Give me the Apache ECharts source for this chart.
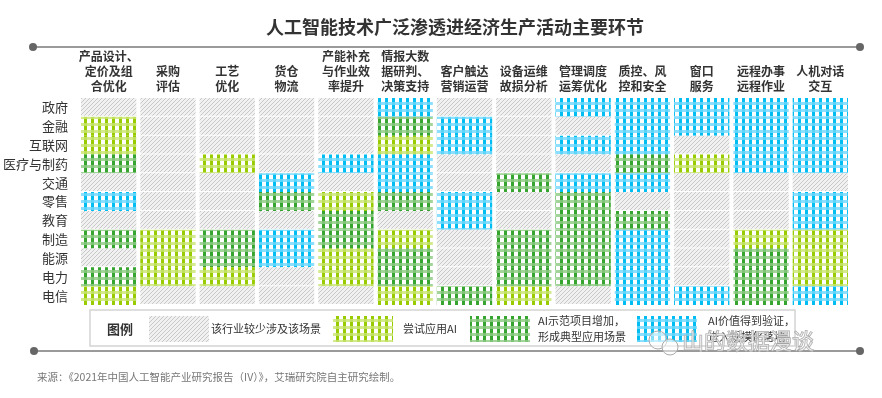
<!DOCTYPE html>
<html>
<head>
    <meta charset="utf-8">
    <title>人工智能技术广泛渗透进经济生产活动主要环节</title>
    <script src="https://cdn.jsdelivr.net/npm/echarts@6/dist/echarts.min.js"></script>
    <style>
        html, body { margin: 0; padding: 0; background: #fff; }
        #container { width: 882px; height: 398px; }
    </style>
</head>
<body>
<div id="container"></div>
<script type="text/javascript">
    // 行业（纵轴）
    var industries = ['政府', '金融', '互联网', '医疗与制药', '交通', '零售', '教育', '制造', '能源', '电力', '电信'];
    // 生产活动环节（横轴）
    var activities = ['产品设计、\n定价及组\n合优化', '采购\n评估', '工艺\n优化', '货仓\n物流', '产能补充\n与作业效\n率提升',
        '情报大数\n据研判、\n决策支持', '客户触达\n营销运营', '设备运维\n故损分析', '管理调度\n运筹优化', '质控、风\n控和安全',
        '窗口\n服务', '远程办事\n远程作业', '人机对话\n交互'];
    // 0=较少涉及 1=尝试应用AI 2=AI示范项目增加 3=AI价值得到验证
    var levelNames = ['该行业较少涉及该场景', '尝试应用AI', 'AI示范项目增加，\n形成典型应用场景', 'AI价值得到验证，\n进入规模化落地'];
    // 每个行业在13个环节上的渗透程度
    var lvGov    = [0, 0, 0, 0, 0, 3, 0, 0, 3, 3, 3, 3, 3];
    var lvFin    = [1, 0, 0, 0, 0, 2, 3, 0, 0, 3, 3, 3, 3];
    var lvNet    = [1, 0, 0, 0, 0, 1, 3, 0, 3, 3, 0, 3, 3];
    var lvMed    = [2, 0, 1, 0, 3, 3, 0, 0, 0, 2, 1, 3, 3];
    var lvTrans  = [0, 0, 0, 3, 0, 3, 0, 2, 3, 3, 0, 0, 0];
    var lvRetail = [3, 0, 0, 2, 1, 2, 3, 0, 2, 0, 0, 0, 3];
    var lvEdu    = [0, 0, 0, 0, 2, 0, 3, 0, 2, 2, 0, 0, 3];
    var lvMfg    = [2, 1, 2, 3, 2, 1, 0, 2, 2, 3, 0, 1, 1];
    var lvEnergy = [0, 1, 2, 3, 1, 2, 0, 2, 2, 3, 0, 2, 1];
    var lvPower  = [2, 1, 1, 0, 1, 2, 0, 2, 2, 3, 0, 2, 1];
    var lvTel    = [1, 0, 0, 0, 0, 1, 2, 1, 0, 3, 3, 2, 3];
    var levelRows = [lvGov, lvFin, lvNet, lvMed, lvTrans, lvRetail, lvEdu, lvMfg, lvEnergy, lvPower, lvTel];

    var cellData = [];
    levelRows.forEach(function (row, y) {
        row.forEach(function (v, x) {
            cellData.push([x, y, v]);
        });
    });

    // 斜线灰色纹理
    function hatchTile() {
        var c = document.createElement('canvas');
        c.width = 4; c.height = 4;
        var ctx = c.getContext('2d');
        ctx.fillStyle = '#f1f1f1';
        ctx.fillRect(0, 0, 4, 4);
        ctx.fillStyle = '#c8c8c8';
        for (var x = 0; x < 4; x++) {
            ctx.fillRect(x, 3 - x, 1, 1);
        }
        return c;
    }
    // 格子纹理
    function ginghamTile(dark, mid, band) {
        var c = document.createElement('canvas');
        c.width = 7; c.height = 7;
        var ctx = c.getContext('2d');
        ctx.fillStyle = '#ffffff';
        ctx.fillRect(0, 0, 7, 7);
        ctx.fillStyle = dark;
        ctx.fillRect(0, 0, 3, 4);
        ctx.fillStyle = band;
        ctx.fillRect(0, 4, 7, 3);
        ctx.fillStyle = mid;
        ctx.fillRect(0, 4, 3, 3);
        return c;
    }
    var patterns = [
        { image: hatchTile(), repeat: 'repeat' },
        { image: ginghamTile('#99cc00', '#c0df5c', '#d3ea8e'), repeat: 'repeat' },
        { image: ginghamTile('#36a52f', '#7fc476', '#a3d59a'), repeat: 'repeat' },
        { image: ginghamTile('#00bdf2', '#5cd3f8', '#8ddfff'), repeat: 'repeat' }
    ];

    var font = '"Noto Sans CJK SC", "Noto Sans", sans-serif';

    function renderItem(params, api) {
        var p = api.coord([api.value(0), api.value(1)]);
        var sz = api.size([1, 1]);
        var lvl = api.value(2);
        var w = sz[0] - 4;
        var h = lvl === 0 ? sz[1] - 1 : sz[1];
        return {
            type: 'rect',
            shape: { x: p[0] - w / 2, y: p[1] - sz[1] / 2, width: w, height: h },
            style: { fill: patterns[lvl] }
        };
    }

    // 图例
    var swatchX = [149, 333, 470, 637];
    var textX = [211, 403, 538, 708];
    var legendEls = [
        { type: 'rect', shape: { x: 90, y: 310, width: 705, height: 36 }, style: { fill: '#fff', stroke: '#d4d4d4', lineWidth: 1.5 } },
        { type: 'text', x: 107, y: 329, style: { text: '图例', font: 'bold 13px ' + font, fill: '#333', verticalAlign: 'middle' } }
    ];
    levelNames.forEach(function (name, i) {
        legendEls.push({ type: 'rect', shape: { x: swatchX[i], y: 316, width: 60, height: 26 }, style: { fill: patterns[i] } });
        legendEls.push({ type: 'text', x: textX[i], y: 329, style: { text: name, font: '11px ' + font, fill: '#333', verticalAlign: 'middle', lineHeight: 16 } });
    });

    var dom = document.getElementById("container");
    var myChart = echarts.init(dom);
    var option = {
        animation: false,
        backgroundColor: '#fff',
        title: {
            text: '人工智能技术广泛渗透进经济生产活动主要环节',
            left: 450,
            textAlign: 'center',
            top: 13,
            textStyle: { fontFamily: font, fontSize: 18, fontWeight: 'bold', color: '#333' }
        },
        grid: { left: 75, right: 32, top: 98, bottom: 93 },
        xAxis: {
            type: 'category',
            position: 'top',
            data: activities,
            axisLine: { show: false },
            axisTick: { show: false },
            splitLine: { show: false },
            axisLabel: {
                interval: 0, margin: 4, fontFamily: font, fontSize: 12, fontWeight: 'bold',
                color: '#333', lineHeight: 15, align: 'center', verticalAlign: 'bottom'
            }
        },
        yAxis: {
            type: 'category',
            inverse: true,
            data: industries,
            axisLine: { show: false },
            axisTick: { show: false },
            splitLine: { show: false },
            axisLabel: { interval: 0, margin: 11, fontFamily: font, fontSize: 13, color: '#333' }
        },
        series: [{
            type: 'custom',
            renderItem: renderItem,
            encode: { x: 0, y: 1 },
            data: cellData
        }],
        graphic: [
            // 上下分隔线
            { type: 'line', shape: { x1: 33, y1: 47, x2: 860, y2: 47 }, style: { stroke: '#9a9a9a', lineWidth: 2 } },
            { type: 'circle', shape: { cx: 33, cy: 47, r: 4 }, style: { fill: '#666' } },
            { type: 'circle', shape: { cx: 860, cy: 47, r: 4 }, style: { fill: '#666' } },
            { type: 'line', shape: { x1: 34, y1: 351, x2: 860, y2: 351 }, style: { stroke: '#9a9a9a', lineWidth: 2 } },
            { type: 'circle', shape: { cx: 34, cy: 351, r: 4 }, style: { fill: '#666' } },
            { type: 'circle', shape: { cx: 860, cy: 351, r: 4 }, style: { fill: '#666' } },
            { type: 'group', children: legendEls },
            // 水印
            { type: 'circle', shape: { cx: 658, cy: 340, r: 9 }, style: { fill: 'rgba(255,255,255,0.5)', stroke: '#aaa', lineWidth: 1 } },
            { type: 'circle', shape: { cx: 670, cy: 347, r: 8 }, style: { fill: 'rgba(255,255,255,0.5)', stroke: '#aaa', lineWidth: 1 } },
            { type: 'text', x: 682, y: 341, style: { text: '山的数据漫谈', font: '22px ' + font, fill: 'rgba(255,255,255,0.45)', stroke: '#a5a5a5', lineWidth: 1, verticalAlign: 'middle' } },
            // 来源
            { type: 'text', x: 37, y: 377, style: { text: '来源：《2021年中国人工智能产业研究报告（IV）》，艾瑞研究院自主研究绘制。', font: '10.5px ' + font, fill: '#777', verticalAlign: 'middle' } }
        ]
    };
    myChart.setOption(option);
</script>
</body>
</html>
